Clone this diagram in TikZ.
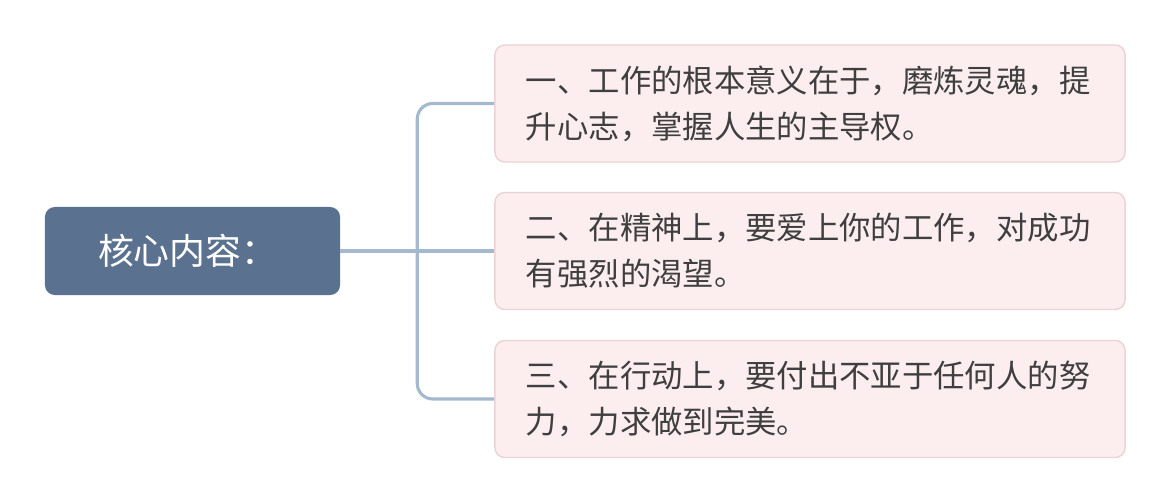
\documentclass[tikz,border=0pt]{standalone}
\usepackage{fontspec}
\setmainfont{Noto Sans CJK SC}
\usetikzlibrary{positioning, calc}
\definecolor{rootblue}{HTML}{5B7190}
\definecolor{linkblue}{HTML}{A4B8CE}
\definecolor{notefill}{HTML}{FCEEEE}
\definecolor{noteline}{HTML}{EBD3D3}
\definecolor{notetext}{HTML}{3F3F3F}

\begin{document}
\begin{tikzpicture}[x=0.025cm, y=-0.025cm,
  rootbox/.style={fill=rootblue, rounded corners=7pt, minimum width=7.375cm, minimum height=2.2cm, text width=4.72cm, align=left, text=white, font=\fontsize{25.5}{30}\selectfont},
  notebox/.style={fill=notefill, draw=noteline, line width=1pt, rounded corners=7pt, minimum width=15.75cm, minimum height=2.925cm, text width=14.2cm, align=left, text=notetext, font=\fontsize{22.3}{32.7}\selectfont},
  link/.style={linkblue, line width=2.2pt, rounded corners=11pt}]
  \useasboundingbox (0,0) rectangle (1170,500);
  % Root
  \node[rootbox] (root) at (192.5,251) {核心内容：};
  % Notes
  \node[notebox] (one) at (810,103.5) {一、工作的根本意义在于，磨炼灵魂，提\\升心志，掌握人生的主导权。};
  \node[notebox] (two) at (810,251) {二、在精神上，要爱上你的工作，对成功\\有强烈的渴望。};
  \node[notebox] (three) at (810,399) {三、在行动上，要付出不亚于任何人的努\\力，力求做到完美。};
  % Links
  \coordinate (fork) at ($(root.east)!0.5!(two.west)$);
  \draw[link] (root.east) -- (two.west);
  \draw[link] (one.west) -| (fork) |- (three.west);
\end{tikzpicture}
\end{document}
